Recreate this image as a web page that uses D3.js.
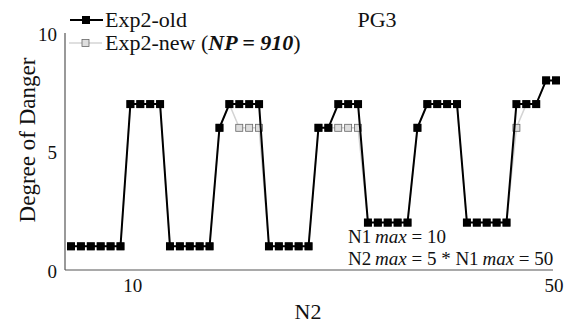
<!DOCTYPE html>
<html lang="en">
<head>
<meta charset="UTF-8">
<title>PG3</title>
<script src="https://d3js.org/d3.v7.min.js"></script>
<style>
    body { margin: 0; background: #fff; }
    svg text { font-family: "Liberation Serif", "Times New Roman", serif; fill: #111; }
</style>
</head>
<body>
<svg width="575" height="325"></svg>
<script>
    // N2 index of each point
    const n2 = d3.range(1, 51);
    // Degree of danger, old and new experiment
    const expOld = [1,1,1,1,1,1, 7,7,7,7, 1,1,1,1,1, 6,7,7,7,7, 1,1,1,1,1,
                    6,6,7,7,7, 2,2,2,2,2, 6,7,7,7,7, 2,2,2,2,2, 7,7,7,8,8];
    const expNew = [1,1,1,1,1,1, 7,7,7,7, 1,1,1,1,1, 6,7,6,6,6, 1,1,1,1,1,
                    6,6,6,6,6, 2,2,2,2,2, 6,7,7,7,7, 2,2,2,2,2, 6,7,7,8,8];
    const yTicks = [0, 5, 10];
    const xTickLabels = ["10", "50"];
    const xTickAt = [7.25, 49.8]; // where the category labels sit

    const svg = d3.select("svg");
    const x = d3.scaleLinear().domain([1, 50]).range([71, 556]);
    const y = d3.scaleLinear().domain([0, 10]).range([270, 33]);

    // axis lines, no tick marks
    svg.append("line").attr("x1", 65).attr("x2", 65).attr("y1", y(10)).attr("y2", y(0))
        .attr("stroke", "#555").attr("stroke-width", 1.2);
    svg.append("line").attr("x1", 65).attr("x2", 553).attr("y1", y(0)).attr("y2", y(0))
        .attr("stroke", "#555").attr("stroke-width", 1.2);

    svg.selectAll(".ytick").data(yTicks).enter().append("text")
        .attr("x", 57).attr("y", d => y(d)).attr("dy", "0.42em")
        .attr("text-anchor", "end").attr("font-size", 19).text(d => d);

    svg.selectAll(".xtick").data(xTickLabels).enter().append("text")
        .attr("x", (d, i) => x(xTickAt[i])).attr("y", 292)
        .attr("text-anchor", "middle").attr("font-size", 19).text(d => d);

    svg.append("text").attr("x", 308).attr("y", 319).attr("text-anchor", "middle")
        .attr("font-size", 22).text("N2");
    svg.append("text").attr("transform", "translate(35,140) rotate(-90)")
        .attr("text-anchor", "middle").attr("font-size", 23).text("Degree of Danger");

    svg.append("text").attr("x", 377).attr("y", 27).attr("text-anchor", "middle")
        .attr("font-size", 22).text("PG3");

    const line = d3.line().x((d, i) => x(n2[i])).y(d => y(d));

    // new series (grey) under the old one
    svg.append("path").datum(expNew).attr("d", line)
        .attr("fill", "none").attr("stroke", "#d4d4d4").attr("stroke-width", 1.5);
    svg.selectAll(".mnew").data(expNew).enter().append("rect")
        .attr("x", (d, i) => x(n2[i]) - 3.5).attr("y", d => y(d) - 3.5)
        .attr("width", 7).attr("height", 7)
        .attr("fill", "#dedede").attr("stroke", "#666").attr("stroke-width", 0.8);

    svg.append("path").datum(expOld).attr("d", line)
        .attr("fill", "none").attr("stroke", "#000").attr("stroke-width", 2);
    svg.selectAll(".mold").data(expOld).enter().append("rect")
        .attr("x", (d, i) => x(n2[i]) - 4).attr("y", d => y(d) - 4)
        .attr("width", 8).attr("height", 8).attr("fill", "#000");

    // legend
    const lg = svg.append("g");
    lg.append("line").attr("x1", 70).attr("x2", 103).attr("y1", 20).attr("y2", 20)
        .attr("stroke", "#000").attr("stroke-width", 2);
    lg.append("rect").attr("x", 82).attr("y", 16).attr("width", 8).attr("height", 8).attr("fill", "#000");
    lg.append("text").attr("x", 105).attr("y", 27).attr("font-size", 22).text("Exp2-old");
    lg.append("line").attr("x1", 69).attr("x2", 102).attr("y1", 43).attr("y2", 43)
        .attr("stroke", "#d4d4d4").attr("stroke-width", 1.5);
    lg.append("rect").attr("x", 82).attr("y", 39.5).attr("width", 7).attr("height", 7)
        .attr("fill", "#dedede").attr("stroke", "#666").attr("stroke-width", 0.8);
    const t2 = lg.append("text").attr("x", 105).attr("y", 50).attr("font-size", 22);
    t2.append("tspan").text("Exp2-new (");
    t2.append("tspan").attr("font-weight", "bold").attr("font-style", "italic").text("NP = 910");
    t2.append("tspan").text(")");

    // annotation
    const a1 = svg.append("text").attr("x", 348).attr("y", 243).attr("font-size", 19);
    a1.append("tspan").text("N1\u2009");
    a1.append("tspan").attr("font-style", "italic").text("max");
    a1.append("tspan").text(" = 10");
    const a2 = svg.append("text").attr("x", 348).attr("y", 265).attr("font-size", 19);
    a2.append("tspan").text("N2\u2009");
    a2.append("tspan").attr("font-style", "italic").text("max");
    a2.append("tspan").text(" = 5 * N1\u2009");
    a2.append("tspan").attr("font-style", "italic").text("max");
    a2.append("tspan").text(" = 50");
</script>
</body>
</html>
